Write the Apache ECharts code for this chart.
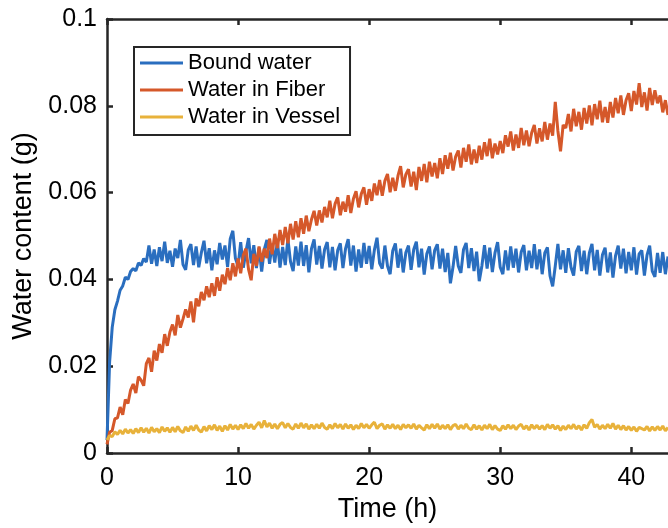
<!DOCTYPE html>
<html><head><meta charset="utf-8">
<script src="https://cdn.jsdelivr.net/npm/echarts@6/dist/echarts.min.js"></script>
<style>html,body{margin:0;padding:0;background:#fff}#c{width:668px;height:528px}</style>
</head><body><div id="c"></div>
<script>
const seriesNames = ['Bound water', 'Water in Fiber', 'Water in Vessel'];
const xTicks = [0, 10, 20, 30, 40];
const yTicks = [0, 0.02, 0.04, 0.06, 0.08, 0.1];

const time = [
0,0.2,0.4,0.6,0.8, 1,1.2,1.4,1.6,1.8, 2,2.2,2.4,2.6,2.8, 3,3.2,3.4,3.6,3.8,
4,4.2,4.4,4.6,4.8, 5,5.2,5.4,5.6,5.8, 6,6.2,6.4,6.6,6.8, 7,7.2,7.4,7.6,7.8,
8,8.2,8.4,8.6,8.8, 9,9.2,9.4,9.6,9.8, 10,10.2,10.4,10.6,10.8, 11,11.2,11.4,11.6,11.8,
12,12.2,12.4,12.6,12.8, 13,13.2,13.4,13.6,13.8, 14,14.2,14.4,14.6,14.8, 15,15.2,15.4,15.6,15.8,
16,16.2,16.4,16.6,16.8, 17,17.2,17.4,17.6,17.8, 18,18.2,18.4,18.6,18.8, 19,19.2,19.4,19.6,19.8,
20,20.2,20.4,20.6,20.8, 21,21.2,21.4,21.6,21.8, 22,22.2,22.4,22.6,22.8, 23,23.2,23.4,23.6,23.8,
24,24.2,24.4,24.6,24.8, 25,25.2,25.4,25.6,25.8, 26,26.2,26.4,26.6,26.8, 27,27.2,27.4,27.6,27.8,
28,28.2,28.4,28.6,28.8, 29,29.2,29.4,29.6,29.8, 30,30.2,30.4,30.6,30.8, 31,31.2,31.4,31.6,31.8,
32,32.2,32.4,32.6,32.8, 33,33.2,33.4,33.6,33.8, 34,34.2,34.4,34.6,34.8, 35,35.2,35.4,35.6,35.8,
36,36.2,36.4,36.6,36.8, 37,37.2,37.4,37.6,37.8, 38,38.2,38.4,38.6,38.8, 39,39.2,39.4,39.6,39.8,
40,40.2,40.4,40.6,40.8, 41,41.2,41.4,41.6,41.8, 42,42.2,42.4,42.6,42.8
];

const boundWater = [
.0030,.0210,.0290,.0330,.0350, .0375,.0385,.0405,.0400,.0418, .0425,.0420,.0438,.0432,.0448,
.0440,.0478,.0436,.0469,.0431, .0474,.0442,.0487,.0438,.0466, .0429,.0471,.0449,.0491,.0434,
.0422,.0468,.0481,.0433,.0476, .0428,.0462,.0489,.0437,.0472, .0421,.0467,.0435,.0484,.0446,
.0478,.0429,.0493,.0512,.0448, .0431,.0486,.0427,.0465,.0495, .0437,.0479,.0426,.0473,.0418,
.0469,.0491,.0436,.0482,.0439, .0488,.0427,.0475,.0433,.0494, .0441,.0419,.0476,.0432,.0487,
.0431,.0479,.0416,.0471,.0492, .0434,.0477,.0425,.0469,.0486, .0428,.0475,.0421,.0467,.0483,
.0426,.0471,.0493,.0432,.0478, .0418,.0469,.0427,.0484,.0436, .0477,.0423,.0468,.0496,.0437,
.0425,.0478,.0431,.0412,.0466, .0483,.0427,.0471,.0416,.0462, .0478,.0422,.0469,.0487,.0428,
.0471,.0411,.0459,.0476,.0423, .0467,.0481,.0425,.0471,.0417, .0461,.0391,.0429,.0477,.0431,
.0415,.0469,.0484,.0426,.0472, .0419,.0464,.0396,.0431,.0479, .0425,.0473,.0417,.0461,.0486,
.0428,.0412,.0467,.0421,.0476, .0427,.0471,.0416,.0463,.0479, .0421,.0466,.0426,.0481,.0423,
.0469,.0412,.0461,.0474,.0408, .0384,.0431,.0482,.0423,.0467, .0415,.0472,.0428,.0409,.0464,
.0477,.0419,.0466,.0412,.0461, .0482,.0421,.0468,.0409,.0457, .0473,.0416,.0462,.0404,.0455,
.0478,.0425,.0471,.0414,.0463, .0421,.0474,.0411,.0459,.0467, .0409,.0456,.0478,.0419,.0406,
.0461,.0415,.0463,.0412,.0453
];

const waterFiber = [
.0020,.0048,.0052,.0079,.0081, .0106,.0088,.0123,.0114,.0145, .0159,.0138,.0176,.0168,.0155,
.0206,.0219,.0187,.0236,.0213, .0251,.0231,.0274,.0247,.0279, .0296,.0271,.0318,.0289,.0309,
.0331,.0312,.0349,.0301,.0356, .0338,.0371,.0352,.0384,.0359, .0391,.0362,.0405,.0374,.0411,
.0389,.0426,.0398,.0437,.0407, .0448,.0414,.0456,.0471,.0423, .0398,.0459,.0431,.0476,.0441,
.0471,.0449,.0494,.0458,.0505, .0472,.0514,.0479,.0521,.0483, .0528,.0492,.0534,.0497,.0541,
.0505,.0547,.0511,.0538,.0558, .0524,.0559,.0531,.0567,.0543, .0581,.0541,.0574,.0589,.0548,
.0579,.0556,.0594,.0553,.0586, .0603,.0566,.0597,.0612,.0572, .0608,.0581,.0621,.0594,.0629,
.0593,.0627,.0643,.0601,.0634, .0604,.0639,.0661,.0612,.0642, .0654,.0614,.0648,.0606,.0659,
.0627,.0666,.0624,.0671,.0637, .0668,.0633,.0679,.0643,.0686, .0655,.0692,.0651,.0683,.0697,
.0658,.0703,.0671,.0711,.0665, .0699,.0668,.0708,.0676,.0716, .0684,.0724,.0679,.0713,.0688,
.0719,.0691,.0732,.0706,.0741, .0697,.0734,.0703,.0749,.0709, .0743,.0707,.0738,.0756,.0713,
.0748,.0718,.0763,.0722,.0759, .0731,.0809,.0742,.0695,.0756, .0749,.0781,.0741,.0793,.0753,
.0786,.0745,.0795,.0759,.0801, .0755,.0804,.0769,.0812,.0762, .0797,.0761,.0809,.0773,.0818,
.0783,.0824,.0779,.0813,.0829, .0788,.0834,.0803,.0852,.0797, .0831,.0789,.0841,.0802,.0836,
.0806,.0824,.0785,.0813,.0779
];

const waterVessel = [
.0030,.0040,.0038,.0049,.0043, .0052,.0044,.0055,.0046,.0054, .0045,.0056,.0047,.0058,.0048,
.0057,.0046,.0059,.0049,.0056, .0047,.0060,.0050,.0058,.0048, .0059,.0049,.0061,.0051,.0047,
.0060,.0050,.0062,.0052,.0064, .0053,.0048,.0061,.0051,.0063, .0054,.0065,.0052,.0062,.0050,
.0063,.0053,.0066,.0055,.0064, .0054,.0065,.0056,.0068,.0057, .0066,.0055,.0064,.0071,.0058,
.0075,.0060,.0069,.0057,.0067, .0056,.0066,.0070,.0058,.0068, .0059,.0055,.0067,.0057,.0069,
.0058,.0067,.0055,.0065,.0056, .0066,.0057,.0069,.0059,.0055, .0065,.0056,.0068,.0058,.0066,
.0055,.0067,.0057,.0065,.0054, .0064,.0056,.0068,.0058,.0066, .0057,.0065,.0071,.0056,.0064,
.0067,.0055,.0065,.0057,.0066, .0056,.0064,.0054,.0066,.0058, .0065,.0057,.0067,.0055,.0064,
.0058,.0053,.0065,.0056,.0066, .0057,.0067,.0055,.0064,.0056, .0065,.0054,.0063,.0066,.0055,
.0064,.0056,.0067,.0057,.0054, .0065,.0055,.0063,.0053,.0064, .0056,.0066,.0054,.0063,.0055,
.0052,.0063,.0055,.0065,.0056, .0064,.0054,.0062,.0066,.0055, .0063,.0053,.0065,.0056,.0064,
.0055,.0063,.0054,.0066,.0057, .0065,.0055,.0063,.0052,.0062, .0054,.0064,.0056,.0066,.0055,
.0063,.0053,.0065,.0057,.0070, .0077,.0059,.0066,.0055,.0064, .0056,.0066,.0057,.0068,.0055,
.0064,.0054,.0063,.0053,.0061, .0052,.0060,.0050,.0059,.0056, .0053,.0061,.0051,.0060,.0052,
.0061,.0053,.0062,.0051,.0059
];

const colors = ['#2a6ebf', '#d5582a', '#e8b23b'];
const axisColor = '#262626';
const FONT = "'Liberation Sans', Arial, Helvetica, sans-serif";

function pairs(vals) {
  const n = Math.min(time.length, vals.length);
  const out = [];
  for (let i = 0; i < n; i++) out.push([time[i], vals[i]]);
  return out;
}

const xMax = 42.8;
const chart = echarts.init(document.getElementById('c'), null, {renderer: 'canvas'});
const commonX = {
  type: 'value', min: 0, max: xMax, interval: 10,
  splitLine: {show: false},
  axisLine: {show: true, onZero: false, lineStyle: {color: axisColor, width: 2.5}},
  axisTick: {show: true, inside: true, length: 6, lineStyle: {color: axisColor, width: 2.5},
    customValues: xTicks}
};
chart.setOption({
  animation: false,
  textStyle: {fontFamily: FONT},
  grid: {left: 107, top: 19, width: 562.8, height: 436, containLabel: false},
  legend: {
    orient: 'vertical', left: 134, top: 47,
    icon: 'rect', itemWidth: 43, itemHeight: 3, itemGap: 5,
    padding: [5, 10, 7, 6],
    borderColor: axisColor, borderWidth: 2, backgroundColor: '#fff',
    textStyle: {fontSize: 22, color: '#000', fontFamily: FONT},
    data: seriesNames
  },
  xAxis: [
    Object.assign({}, commonX, {
      position: 'bottom',
      name: 'Time (h)', nameLocation: 'middle', nameGap: 43,
      nameTextStyle: {fontSize: 27, color: '#000', fontFamily: FONT},
      axisLabel: {show: true, fontSize: 25, color: '#000', margin: 13, fontFamily: FONT,
        customValues: xTicks, formatter: v => String(v)}
    }),
    Object.assign({}, commonX, {
      position: 'top',
      axisLabel: {show: false}
    })
  ],
  yAxis: {
    type: 'value', min: 0, max: 0.1, interval: 0.02,
    splitLine: {show: false},
    axisLine: {show: true, onZero: false, lineStyle: {color: axisColor, width: 2.5}},
    axisTick: {show: true, inside: true, length: 6, lineStyle: {color: axisColor, width: 2.5}},
    axisLabel: {show: true, fontSize: 25, color: '#000', margin: 10, fontFamily: FONT,
      customValues: yTicks, formatter: v => String(+(+v).toFixed(2))},
    name: 'Water content (g)', nameLocation: 'middle', nameGap: 64,
    nameTextStyle: {fontSize: 27, color: '#000', fontFamily: FONT}
  },
  series: [
    {name: seriesNames[0], type: 'line', data: pairs(boundWater), showSymbol: false, symbol: 'none',
     color: colors[0], lineStyle: {width: 3, color: colors[0]}, z: 2},
    {name: seriesNames[1], type: 'line', data: pairs(waterFiber), showSymbol: false, symbol: 'none',
     color: colors[1], lineStyle: {width: 3, color: colors[1]}, z: 3},
    {name: seriesNames[2], type: 'line', data: pairs(waterVessel), showSymbol: false, symbol: 'none',
     color: colors[2], lineStyle: {width: 3, color: colors[2]}, z: 4}
  ]
});
</script>
</body></html>
